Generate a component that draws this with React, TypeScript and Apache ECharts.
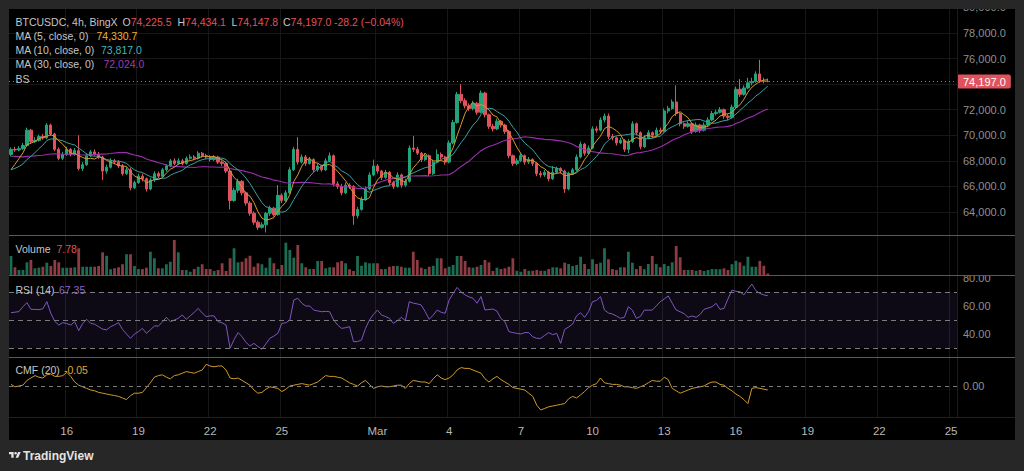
import React, { useEffect, useRef } from 'react';
import * as echarts from 'echarts';

echarts.graphic.registerShape(
  'tvlogo',
  echarts.graphic.extendPath('M14 22H7V11H0V4h14v18zM28 22h-8l7.5-18h8L28 22zM16 8a4 4 0 1 0 8 0a4 4 0 1 0 -8 0z', {})
);

const FONT = "'Liberation Sans', Arial, sans-serif";
const HS = 10.5; // legend font size
const AS = 11; // axis font size

// 4h candles starting 2025-02-13 16:00 (UTC), axis extended to the right edge
const startTime = Date.UTC(2025, 1, 13, 16, 0);
const categoryCount = 238;
const tickDates = ['2025-02-16', '2025-02-19', '2025-02-22', '2025-02-25', '2025-03-01', '2025-03-04', '2025-03-07', '2025-03-10', '2025-03-13', '2025-03-16', '2025-03-19', '2025-03-22', '2025-03-25'];
const tickTexts = ['16', '19', '22', '25', 'Mar', '4', '7', '10', '13', '16', '19', '22', '25'];

// closes before the visible window (only used by the moving averages)
const warmupCloses = [69200, 69500, 69800, 69400, 69000, 68800, 69100, 69300, 69000, 68700, 68500, 68900, 69100, 68800, 68600, 68400, 68700, 68500, 68300, 68200, 67800, 67500, 67200, 67000, 67000, 66800, 66700, 67000, 67200];

// [open, close, low, high]
const ohlc: [number, number, number, number][] = [
  [68500, 68900, 68350, 69050], [68900, 68850, 68700, 69100], [68850, 68950, 68750, 69150], [68950, 69200, 68850, 69400], [69200, 70400, 69100, 70600],
  [70400, 69500, 69350, 70500], [69500, 69600, 69400, 69850], [69600, 69900, 69500, 70050], [69900, 69800, 69650, 70100], [69800, 70800, 69700, 70950],
  [70800, 70100, 69950, 70900], [70100, 68900, 68750, 70200], [68900, 68200, 68050, 69050], [68200, 68500, 68050, 68700], [68500, 68900, 68400, 69100],
  [68900, 68500, 68350, 69000], [68500, 68800, 68400, 69000], [68800, 67400, 67250, 70000], [67400, 67700, 67200, 67900], [67700, 68400, 67600, 68600],
  [68400, 68700, 68300, 68850], [68700, 68500, 68400, 68900], [68500, 68300, 68150, 68700], [68300, 67200, 66500, 68400], [67200, 67500, 67000, 67700],
  [67500, 68000, 67400, 68200], [68000, 67900, 67750, 68150], [67900, 67600, 67450, 68050], [67600, 67000, 66850, 67750], [67000, 67300, 66900, 67500],
  [67300, 65900, 65700, 67450], [65900, 66300, 65800, 66450], [66300, 66800, 66200, 67000], [66800, 66600, 66400, 67000], [66600, 65800, 65600, 66700],
  [65800, 66500, 65700, 66650], [66500, 67000, 66350, 67200], [67000, 66800, 66650, 67150], [66800, 67300, 66700, 67450], [67300, 67600, 67150, 67750],
  [67600, 68000, 67500, 68150], [68000, 67800, 67650, 68200], [67800, 68000, 67700, 68200], [68000, 67800, 67650, 68150], [67800, 68200, 67700, 68350],
  [68200, 68300, 68100, 68500], [68300, 68200, 68050, 68450], [68200, 68600, 68100, 68750], [68600, 68400, 68250, 68700], [68400, 68300, 68150, 68550],
  [68300, 68100, 67950, 68450], [68100, 68300, 68000, 68450], [68300, 67900, 67750, 68400], [67900, 67800, 67600, 68050], [67800, 67200, 67050, 67900],
  [67200, 64900, 64200, 67300], [64900, 65700, 64800, 65900], [65700, 66400, 65500, 66600], [66400, 65500, 65300, 66500], [65500, 64700, 64500, 65600],
  [64700, 63900, 63700, 64850], [63900, 63200, 63000, 64050], [63200, 62800, 62600, 63350], [62800, 63000, 62700, 63200], [63000, 63900, 62400, 64000],
  [63900, 64300, 63700, 64500], [64300, 63800, 63650, 64400], [63800, 65300, 63700, 66100], [65300, 64900, 64700, 65450], [64900, 65500, 64800, 65700],
  [65500, 67300, 65400, 67500], [67300, 68900, 67200, 69100], [68900, 67900, 67700, 69850], [67900, 68300, 67800, 68500], [68300, 67800, 67600, 68450],
  [67800, 68100, 67700, 68300], [68100, 67300, 67100, 68200], [67300, 67600, 67150, 67800], [67600, 67300, 67150, 67700], [67300, 68000, 67200, 68200],
  [68000, 68400, 67900, 68650], [68400, 66200, 66000, 68500], [66200, 66000, 65800, 66400], [66000, 65500, 65300, 66200], [65500, 66100, 65400, 66300],
  [66100, 66000, 65800, 66250], [66000, 63700, 63000, 66100], [63700, 64200, 63500, 64400], [64200, 65000, 64100, 65200], [65000, 65800, 64900, 66000],
  [65800, 66900, 65700, 67100], [66900, 67600, 66800, 68100], [67600, 67200, 67000, 67750], [67200, 66700, 66500, 67300], [66700, 67100, 66600, 67300],
  [67100, 66300, 66100, 67200], [66300, 66000, 65800, 66450], [66000, 66900, 65900, 67100], [66900, 66100, 65900, 67000], [66100, 66400, 65950, 66600],
  [66400, 69000, 66300, 69200], [69000, 68900, 68700, 69950], [68900, 68600, 68450, 69100], [68600, 68100, 67900, 68700], [68100, 68400, 68000, 68600],
  [68400, 67000, 66800, 68500], [67000, 67900, 66900, 68100], [67900, 68500, 67800, 68900], [68500, 68300, 68100, 68650], [68300, 67900, 67700, 68400],
  [67900, 69400, 67800, 69600], [69400, 71000, 69300, 71200], [71000, 73200, 70900, 73400], [73200, 72700, 72500, 74000], [72700, 72300, 72100, 72900],
  [72300, 72100, 71900, 72500], [72100, 72500, 71950, 72700], [72500, 71800, 71600, 72600], [71800, 73300, 71700, 73500], [73300, 71600, 71400, 73400],
  [71600, 70700, 70500, 71700], [70700, 70500, 70300, 70900], [70500, 71100, 70400, 71300], [71100, 70800, 70600, 71200], [70800, 70300, 70100, 70900],
  [70300, 68400, 68200, 70400], [68400, 67800, 67600, 68500], [67800, 68000, 67650, 68200], [68000, 68400, 67900, 68600], [68400, 67900, 67700, 68500],
  [67900, 68100, 67750, 68300], [68100, 67800, 67600, 68200], [67800, 67000, 66800, 67900], [67000, 66900, 66700, 67200], [66900, 67100, 66750, 67300],
  [67100, 66600, 66400, 67200], [66600, 67100, 66500, 67600], [67100, 67400, 67000, 67550], [67400, 67200, 67000, 67500], [67200, 65800, 65500, 67300],
  [65800, 67000, 65700, 67150], [67000, 67300, 66900, 67450], [67300, 68300, 67200, 68500], [68300, 69300, 68200, 69500], [69300, 68600, 68400, 69400],
  [68600, 69000, 68500, 69200], [69000, 70500, 68900, 70700], [70500, 70400, 70200, 70700], [70400, 71200, 70300, 71400], [71200, 71500, 71000, 71700],
  [71500, 69900, 69700, 71700], [69900, 69800, 69600, 70100], [69800, 69400, 69200, 69900], [69400, 69600, 69300, 69800], [69600, 68900, 68700, 69700],
  [68900, 69500, 68600, 69700], [69500, 70900, 69400, 71100], [70900, 70200, 70000, 71000], [70200, 69100, 68900, 70300], [69100, 69800, 69000, 70000],
  [69800, 70200, 69700, 70400], [70200, 70000, 69800, 70300], [70000, 70400, 69900, 70600], [70400, 70300, 70100, 70600], [70300, 71900, 70200, 72100],
  [71900, 72100, 71700, 72300], [72100, 72600, 72000, 72800], [72600, 71700, 71500, 73900], [71700, 70900, 70700, 71800], [70900, 70700, 70500, 71000],
  [70700, 70900, 70600, 71100], [70900, 70300, 70100, 71000], [70300, 70800, 70200, 71000], [70800, 70400, 70200, 70900], [70400, 70800, 70300, 71000],
  [70800, 71200, 70700, 71400], [71200, 71700, 71100, 71900], [71700, 71800, 71550, 72000], [71800, 72000, 71700, 72200], [72000, 71500, 71300, 72100],
  [71500, 71400, 71200, 71650], [71400, 72200, 71300, 72400], [72200, 73600, 72100, 73800], [73600, 73200, 73000, 74400], [73200, 73700, 73100, 73900],
  [73700, 74100, 73600, 74500], [74100, 74200, 73900, 74500], [74200, 74800, 74100, 75000], [74800, 74250, 74100, 75900], [74250, 74225.5, 74050, 74500],
  [74225.5, 74197, 74147.8, 74434.1],
];

const volumes = [
  99, 40, 26, 26, 66, 78, 35, 38, 43, 64,
  47, 78, 66, 38, 38, 38, 40, 139, 43, 43,
  43, 43, 47, 118, 100, 30, 35, 40, 56, 108,
  108, 47, 31, 31, 38, 121, 87, 35, 35, 56,
  69, 182, 118, 26, 26, 17, 31, 43, 56, 31,
  31, 21, 26, 61, 21, 87, 139, 66, 69, 87,
  100, 43, 61, 56, 38, 90, 61, 31, 52, 168,
  130, 90, 156, 61, 40, 31, 31, 73, 73, 35,
  40, 40, 66, 73, 61, 30, 21, 99, 48, 66,
  61, 61, 61, 31, 31, 43, 47, 47, 43, 38,
  38, 121, 78, 38, 31, 43, 48, 87, 87, 35,
  43, 52, 99, 99, 73, 40, 38, 43, 52, 78,
  66, 21, 38, 31, 35, 43, 87,
  22, 17, 31, 22, 22, 26, 22, 22, 31, 40,
  40, 35, 64, 57, 47, 52, 95, 57, 31, 82,
  57, 64, 139, 82, 31, 26, 40, 40, 121, 64,
  31, 47, 30, 57, 99, 57, 40, 57, 47, 66,
  151, 92, 26, 26, 26, 22, 26, 21, 26, 31,
  31, 30, 35, 26, 56, 74, 66, 48, 95, 43,
  43, 73, 48, 7.78,
];

const rsiValues = [
  55.2, 55.6, 56.0, 59.5, 62.4, 57.6, 57.6, 57.4, 58.0, 63.1,
  54.8, 49.0, 46.4, 48.1, 47.5, 46.4, 48.8, 42.4, 47.5, 50.5,
  47.6, 47.0, 45.2, 43.5, 42.9, 45.2, 46.5, 48.1, 43.3, 40.0,
  36.9, 40.0, 41.7, 44.0, 40.5, 43.0, 45.7, 45.7, 48.5, 51.9,
  48.8, 50.0, 51.2, 53.6, 50.5, 53.0, 55.5, 58.3, 55.0, 52.4,
  53.0, 52.9, 48.8, 48.0, 46.4, 29.8, 36.0, 41.0, 38.1, 34.0,
  31.4, 33.3, 31.0, 29.1, 33.0, 36.9, 38.5, 40.5, 47.6, 48.0,
  50.0, 64.3, 65.5, 62.0, 60.0, 60.0, 57.1, 56.5, 55.9, 56.2,
  55.9, 50.0, 46.4, 44.0, 44.5, 45.2, 34.5, 34.6, 35.7, 44.0,
  50.0, 54.0, 57.1, 53.6, 52.5, 51.2, 47.6, 49.5, 51.9, 49.5,
  63.1, 62.0, 61.5, 60.7, 55.9, 50.5, 53.5, 57.1, 55.5, 54.8,
  64.3, 69.0, 73.3, 70.0, 67.9, 66.5, 65.5, 62.0, 66.7, 57.1,
  57.5, 57.8, 56.4, 51.0, 48.8, 41.7, 41.0, 40.5, 40.0, 41.0,
  41.0, 38.0, 36.9, 36.9, 39.0, 41.0, 39.5, 40.5, 33.3, 43.3,
  45.0, 47.1, 53.0, 55.2, 51.9, 56.0, 63.1, 64.0, 66.7, 57.1,
  55.0, 54.3, 52.9, 51.2, 52.0, 59.5, 57.0, 51.2, 52.5, 57.1,
  57.0, 57.1, 60.0, 63.1, 65.0, 67.2, 62.0, 57.1, 55.9, 54.5,
  51.9, 52.9, 51.9, 54.0, 57.6, 58.5, 59.5, 61.9, 57.6, 58.3,
  65.0, 71.4, 70.5, 70.2, 67.9, 72.0, 75.7, 71.0, 69.0, 67.9,
  67.35,
];

const cmfValues = [
  0.02, -0.01, 0.0, 0.01, 0.07, 0.10, 0.13, 0.11, 0.10, 0.14,
  0.15, 0.12, 0.12, 0.13, 0.17, 0.12, 0.05, 0.01, -0.01, -0.03,
  -0.05, -0.06, -0.08, -0.09, -0.10, -0.11, -0.12, -0.13, -0.15, -0.17,
  -0.12, -0.09, -0.09, -0.08, -0.02, 0.04, 0.11, 0.13, 0.14, 0.11,
  0.09, 0.13, 0.14, 0.16, 0.18, 0.17, 0.16, 0.18, 0.20, 0.27,
  0.25, 0.24, 0.25, 0.25, 0.20, 0.10, 0.09, 0.10, 0.07, 0.04,
  0.01, -0.05, -0.09, -0.08, -0.04, -0.01, -0.02, -0.03, -0.07, -0.04,
  0.0, 0.01, 0.02, 0.03, 0.02, 0.01, 0.03, 0.05, 0.09, 0.13,
  0.12, 0.12, 0.11, 0.10, 0.07, 0.04, 0.02, 0.0, 0.04, 0.07,
  0.02, -0.03, -0.01, 0.0, -0.01, -0.01, 0.0, 0.01, 0.01, -0.03,
  0.03, 0.07, 0.06, 0.05, 0.05, 0.03, 0.09, 0.14, 0.10, 0.08,
  0.10, 0.14, 0.20, 0.23, 0.22, 0.22, 0.20, 0.18, 0.16, 0.09,
  0.05, 0.09, 0.12, 0.08, 0.05, 0.02, -0.02, -0.03, -0.04, -0.05,
  -0.09, -0.13, -0.24, -0.30, -0.28, -0.26, -0.25, -0.24, -0.23, -0.22,
  -0.16, -0.13, -0.15, -0.11, -0.07, -0.02, 0.01, 0.03, 0.10, 0.04,
  0.03, 0.02, 0.02, 0.01, -0.01, -0.01, -0.02, -0.03, -0.01, 0.01,
  0.04, 0.07, 0.06, 0.06, 0.11, 0.08, -0.03, -0.06, -0.09, -0.07,
  -0.05, -0.03, -0.02, -0.01, 0.0, 0.03, 0.05, 0.05, 0.02, 0.01,
  -0.03, -0.06, -0.10, -0.13, -0.17, -0.22, -0.03, -0.02, -0.03, -0.04,
  -0.05,
];

const UP = '#22a37a';
const DOWN = '#e0525c';
const VOL_UP = '#1d6b52';
const VOL_DOWN = '#8c3c42';

function pad(n: number) {
  return n < 10 ? '0' + n : '' + n;
}
const categories: string[] = [];
for (let i = 0; i < categoryCount; i++) {
  const d = new Date(startTime + i * 4 * 3600 * 1000);
  categories.push(`${d.getUTCFullYear()}-${pad(d.getUTCMonth() + 1)}-${pad(d.getUTCDate())} ${pad(d.getUTCHours())}:00`);
}
const tickMap: Record<string, string> = {};
tickDates.forEach((d, k) => {
  tickMap[d + ' 00:00'] = tickTexts[k];
});

function sma(n: number) {
  const closes = [...warmupCloses, ...ohlc.map((d) => d[1])];
  const off = warmupCloses.length;
  return ohlc.map((_, i) => {
    let s = 0;
    for (let k = off + i - n + 1; k <= off + i; k++) s += closes[k];
    return +(s / n).toFixed(1);
  });
}

const ma5 = sma(5);
const ma10 = sma(10);
const ma30 = sma(30);
const lastClose = ohlc[ohlc.length - 1][1];

const isTick = (_: number, v: string) => tickMap[v] !== undefined;

function xAxisFor(idx: number, showLabels: boolean) {
  return {
    type: 'category',
    gridIndex: idx,
    data: categories,
    boundaryGap: true,
    axisLine: { show: false },
    axisTick: { show: false },
    axisLabel: showLabels
      ? {
          show: true,
          interval: isTick,
          formatter: (v: string) => tickMap[v] || '',
          color: '#b8b8b8',
          fontSize: 11.5,
          fontFamily: FONT,
          margin: 8,
        }
      : { show: false },
    splitLine: { show: true, interval: isTick, lineStyle: { color: '#171717', width: 1 } },
  };
}

const rich = {
  g: { fill: '#c6c6c6', fontSize: HS, fontFamily: FONT },
  r: { fill: DOWN, fontSize: HS, fontFamily: FONT },
};

function txt(x: number, y: number, text: string, fill: string, extra: any = {}) {
  return {
    type: 'text',
    x,
    y,
    z: 120,
    style: { text, fill, fontSize: HS, fontFamily: FONT, verticalAlign: 'middle', align: 'left', ...extra },
  };
}

const HEAD = '#c6c6c6';
const SEP = '#5a5a5a';
const FRAME = '#272727';

const option: any = {
  animation: false,
  backgroundColor: '#000000',
  grid: [
    // the price grid starts 2px above the panel so that the 80,000 label is half hidden, as in the original
    { left: 9, width: 948, top: 7, height: 228 },
    { left: 9, width: 948, top: 235, height: 40 },
    { left: 9, width: 948, top: 275, height: 82 },
    { left: 9, width: 948, top: 357, height: 60 },
  ],
  xAxis: [xAxisFor(0, false), xAxisFor(1, false), xAxisFor(2, false), xAxisFor(3, true)],
  yAxis: [
    {
      type: 'value',
      gridIndex: 0,
      position: 'right',
      min: 62201,
      max: 80031,
      splitNumber: 9,
      minInterval: 2000,
      maxInterval: 2000,
      axisLine: { show: false },
      axisTick: { show: false },
      splitLine: { show: true, lineStyle: { color: '#171717' } },
      axisLabel: {
        margin: 6,
        color: '#8f8f8f',
        fontSize: AS,
        fontFamily: FONT,
        // the 74,000 tick is covered by the last-price tag
        formatter: (v: number) =>
          Math.abs(v % 2000) < 1e-6 && Math.abs(v - lastClose) > 700
            ? v.toLocaleString('en-US', { minimumFractionDigits: 1, maximumFractionDigits: 1 })
            : '',
      },
    },
    {
      type: 'value',
      gridIndex: 1,
      position: 'right',
      min: 0,
      max: 208,
      axisLine: { show: false },
      axisTick: { show: false },
      axisLabel: { show: false },
      splitLine: { show: false },
    },
    {
      type: 'value',
      gridIndex: 2,
      position: 'right',
      min: 23.57,
      max: 82.14,
      minInterval: 10,
      maxInterval: 10,
      axisLine: { show: false },
      axisTick: { show: false },
      splitLine: { show: false },
      axisLabel: {
        margin: 6,
        color: '#8f8f8f',
        fontSize: AS,
        fontFamily: FONT,
        formatter: (v: number) => ([40, 60, 80].some((t) => Math.abs(v - t) < 1e-6) ? v.toFixed(2) : ''),
      },
    },
    {
      type: 'value',
      gridIndex: 3,
      position: 'right',
      min: -0.3875,
      max: 0.3625,
      minInterval: 0.1,
      maxInterval: 0.1,
      axisLine: { show: false },
      axisTick: { show: false },
      splitLine: { show: false },
      axisLabel: {
        margin: 6,
        color: '#8f8f8f',
        fontSize: AS,
        fontFamily: FONT,
        formatter: (v: number) => (Math.abs(v) < 1e-9 ? '0.00' : ''),
      },
    },
  ],
  series: [
    {
      type: 'candlestick',
      xAxisIndex: 0,
      yAxisIndex: 0,
      data: ohlc,
      barWidth: 2.8,
      itemStyle: { color: UP, color0: DOWN, borderColor: UP, borderColor0: DOWN, borderWidth: 1 },
      markLine: {
        silent: true,
        symbol: ['none', 'none'],
        data: [{ yAxis: lastClose }],
        lineStyle: { color: DOWN, type: [1, 3], width: 1 },
        label: {
          show: true,
          position: 'end',
          distance: 0,
          formatter: () => lastClose.toLocaleString('en-US', { minimumFractionDigits: 1 }),
          color: '#ffffff',
          backgroundColor: DOWN,
          padding: [2, 5, 1, 6],
          borderRadius: 2,
          fontSize: AS,
          fontFamily: FONT,
        },
      },
      z: 3,
    },
    {
      type: 'line',
      xAxisIndex: 0,
      yAxisIndex: 0,
      data: ma30,
      showSymbol: false,
      symbol: 'none',
      lineStyle: { color: '#9a2fae', width: 1.1 },
      z: 4,
    },
    {
      type: 'line',
      xAxisIndex: 0,
      yAxisIndex: 0,
      data: ma10,
      showSymbol: false,
      symbol: 'none',
      lineStyle: { color: '#3f9ea0', width: 1 },
      z: 4,
    },
    {
      type: 'line',
      xAxisIndex: 0,
      yAxisIndex: 0,
      data: ma5,
      showSymbol: false,
      symbol: 'none',
      lineStyle: { color: '#d69a2c', width: 1 },
      z: 4,
    },
    {
      type: 'bar',
      xAxisIndex: 1,
      yAxisIndex: 1,
      barWidth: 2.8,
      data: volumes.map((v, i) => ({
        value: v,
        itemStyle: { color: ohlc[i][1] >= ohlc[i][0] ? VOL_UP : VOL_DOWN },
      })),
    },
    {
      type: 'line',
      xAxisIndex: 2,
      yAxisIndex: 2,
      data: rsiValues,
      showSymbol: false,
      symbol: 'none',
      lineStyle: { color: '#7e57c2', width: 1 },
      markArea: {
        silent: true,
        itemStyle: { color: 'rgba(126,87,194,0.11)' },
        data: [[{ yAxis: 30 }, { yAxis: 70 }]],
      },
      markLine: {
        silent: true,
        symbol: ['none', 'none'],
        label: { show: false },
        lineStyle: { color: '#7b7b7b', type: [5, 4], width: 1 },
        data: [{ yAxis: 70 }, { yAxis: 50 }, { yAxis: 30 }],
      },
    },
    {
      type: 'line',
      xAxisIndex: 3,
      yAxisIndex: 3,
      data: cmfValues,
      showSymbol: false,
      symbol: 'none',
      lineStyle: { color: '#d09a28', width: 1 },
      markLine: {
        silent: true,
        symbol: ['none', 'none'],
        label: { show: false },
        lineStyle: { color: '#7b7b7b', type: [4, 4], width: 1 },
        data: [{ yAxis: 0 }],
      },
    },
  ],
  graphic: [
    // price scale border
    { type: 'line', z: 90, shape: { x1: 957.5, y1: 9, x2: 957.5, y2: 417 }, style: { stroke: '#1c1c1c', lineWidth: 1 } },
    // clip of the RSI top label
    { type: 'rect', z: 95, shape: { x: 958, y: 262, width: 57, height: 13 }, style: { fill: '#000000' } },
    // pane separators
    { type: 'line', z: 100, shape: { x1: 9, y1: 235.5, x2: 1015, y2: 235.5 }, style: { stroke: SEP, lineWidth: 1 } },
    { type: 'line', z: 100, shape: { x1: 9, y1: 275.5, x2: 1015, y2: 275.5 }, style: { stroke: SEP, lineWidth: 1 } },
    { type: 'line', z: 100, shape: { x1: 9, y1: 357.5, x2: 1015, y2: 357.5 }, style: { stroke: SEP, lineWidth: 1 } },
    { type: 'line', z: 100, shape: { x1: 9, y1: 417.5, x2: 1015, y2: 417.5 }, style: { stroke: '#202020', lineWidth: 1 } },
    // outer frame
    { type: 'rect', z: 110, shape: { x: 0, y: 0, width: 1024, height: 9 }, style: { fill: FRAME } },
    { type: 'rect', z: 110, shape: { x: 0, y: 0, width: 9, height: 471 }, style: { fill: FRAME } },
    { type: 'rect', z: 110, shape: { x: 1015, y: 0, width: 9, height: 471 }, style: { fill: FRAME } },
    { type: 'rect', z: 110, shape: { x: 0, y: 440, width: 1024, height: 31 }, style: { fill: FRAME } },
    // header legend
    txt(15.5, 22, 'BTCUSDC, 4h, BingX', HEAD),
    txt(122.5, 22, '{g|O}{r|74,225.5}', HEAD, { rich }),
    txt(177.5, 22, '{g|H}{r|74,434.1}', HEAD, { rich }),
    txt(231.5, 22, '{g|L}{r|74,147.8}', HEAD, { rich }),
    txt(283, 22, '{g|C}{r|74,197.0}', HEAD, { rich }),
    txt(334, 22, '-28.2 (\u22120.04%)', DOWN),
    txt(15.5, 36, 'MA (5, close, 0)', HEAD),
    txt(96.5, 36, '74,330.7', '#f0b030'),
    txt(15.5, 50, 'MA (10, close, 0)', HEAD),
    txt(101, 50, '73,817.0', '#45b3b8'),
    txt(15.5, 64, 'MA (30, close, 0)', HEAD),
    txt(103.5, 64, '72,024.0', '#a13cbb'),
    txt(15.5, 79, 'BS', HEAD),
    // pane legends
    txt(15.5, 249, 'Volume', HEAD),
    txt(56.5, 249, '7.78', DOWN),
    txt(15.5, 289.5, 'RSI (14)', HEAD),
    txt(59, 289.5, '67.35', '#8a64d0'),
    txt(15.5, 370, 'CMF (20)', HEAD),
    txt(64, 370, '-0.05', '#e0a830'),
    // branding
    { type: 'tvlogo', z: 120, x: 9, y: 450.6, scaleX: 0.33, scaleY: 0.33, style: { fill: '#e4e4e4' } },
    {
      type: 'text',
      z: 120,
      x: 23,
      y: 456,
      style: { text: 'TradingView', fill: '#e4e4e4', fontSize: 12, fontWeight: 'bold', fontFamily: FONT, verticalAlign: 'middle' },
    },
  ],
};

export default function App() {
  const ref = useRef<HTMLDivElement>(null);
  useEffect(() => {
    document.body.style.margin = '0';
    const chart = echarts.init(ref.current as HTMLDivElement, null, { renderer: 'svg' });
    chart.setOption(option);
    return () => chart.dispose();
  }, []);
  return <div ref={ref} style={{ width: 1024, height: 471, background: '#000' }} />;
}
